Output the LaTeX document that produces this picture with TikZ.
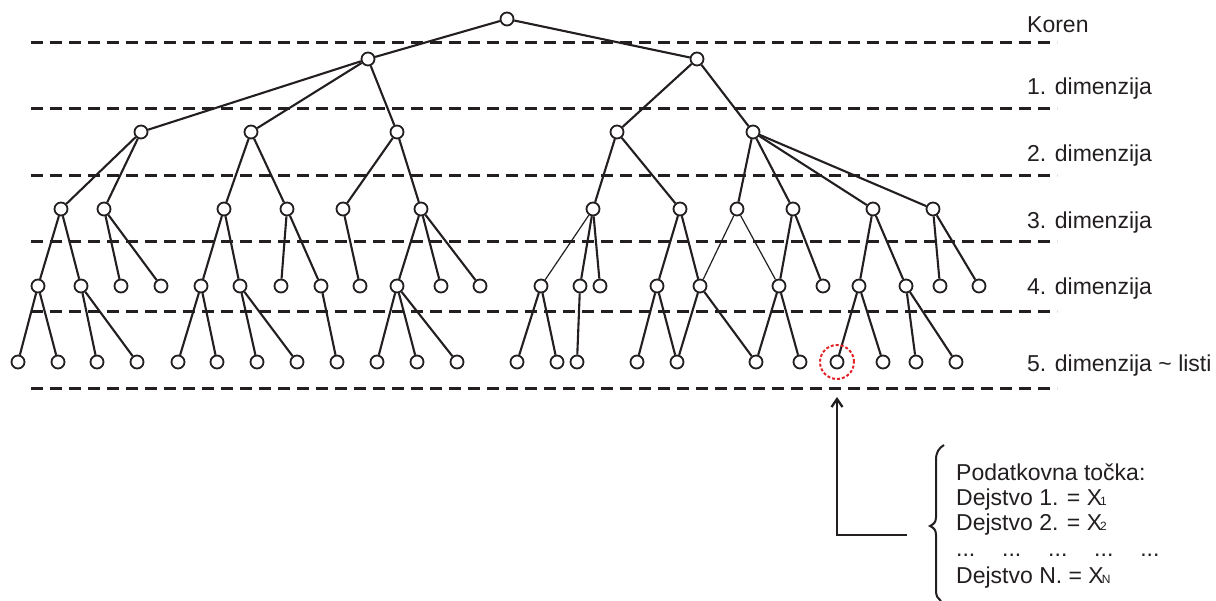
\documentclass[tikz,border=0pt]{standalone}
\usepackage{fontspec}
\setmainfont{Liberation Sans}
\usetikzlibrary{arrows.meta}
\definecolor{ink}{RGB}{35,31,32}
\definecolor{hlred}{RGB}{226,35,40}
\newcommand{\Xsub}[1]{X\kern-2pt{\fontsize{12}{12}\selectfont #1}}
\begin{document}
\begin{tikzpicture}[x=1pt,y=-1pt,
  dot/.style={circle,draw=ink,line width=1.8pt,fill=white,minimum size=13pt,inner sep=0pt},
  edge/.style={draw=ink,line width=2.1pt},
  thinedge/.style={draw=ink,line width=1.2pt},
  levelline/.style={draw=ink,line width=3pt,dash pattern=on 12pt off 7pt},
  lbl/.style={anchor=base west,inner sep=0pt,text=ink,font=\fontsize{23}{25}\selectfont},
  hlc/.style={circle,draw=hlred,line width=2pt,dash pattern=on 3pt off 2pt,minimum size=34pt,inner sep=0pt}]
\useasboundingbox (0,0) rectangle (1216,601);

% level separators
\foreach \y in {43,109,176,242,312,389}
  \draw[levelline] (31,\y) -- (1057,\y);

% nodes
\node[dot] (root) at (507,19) {};
\node[dot] (a1) at (368,59) {};
\node[dot] (a2) at (697,59) {};
\foreach \x [count=\i] in {141,251,397,617,753}
  \node[dot] (b\i) at (\x,132) {};
\foreach \x [count=\i] in {61,104,224,287,343,421,593,680,737,793,873,933}
  \node[dot] (c\i) at (\x,209) {};
\foreach \x [count=\i] in {38,81,121,161,201,240,281,321,360,397,441,480,541,580,600,657,700,779,823,859,906,940,979}
  \node[dot] (d\i) at (\x,286) {};
\foreach \x [count=\i] in {18,58,97,137,178,217,257,297,337,377,417,457,517,557,577,637,677,756,800,837,883,916,956}
  \node[dot] (e\i) at (\x,362) {};

% edges
\foreach \p/\q in {root/a1,root/a2,
  a1/b1,a1/b2,a1/b3,a2/b4,a2/b5,
  b1/c1,b1/c2,b2/c3,b2/c4,b3/c5,b3/c6,b4/c7,b4/c8,b5/c9,b5/c10,b5/c11,b5/c12,
  c1/d1,c1/d2,c2/d3,c2/d4,c3/d5,c3/d6,c4/d7,c4/d8,c5/d9,c6/d10,c6/d11,c6/d12,
  c7/d14,c7/d15,c8/d16,c8/d17,c10/d18,c10/d19,c11/d20,c11/d21,c12/d22,c12/d23,
  d1/e1,d1/e2,d2/e3,d2/e4,d5/e5,d5/e6,d6/e7,d6/e8,d8/e9,d10/e10,d10/e11,d10/e12,
  d13/e13,d13/e14,d14/e15,d16/e16,d16/e17,d17/e17,d17/e18,d18/e18,d18/e19,
  d20/e20,d20/e21,d21/e22,d21/e23}
  \draw[edge] (\p) -- (\q);
\foreach \p/\q in {c7/d13,c9/d17,c9/d18}
  \draw[thinedge] (\p) -- (\q);

% highlighted data point
\node[hlc] (hl) at (e20) {};

% level labels
\node[lbl] (lk) at (1027,33) {Koren};
\node[lbl] (l1) at (1027,95) {1. dimenzija};
\node[lbl] (l2) at (1027,162) {2. dimenzija};
\node[lbl] (l3) at (1027,229) {3. dimenzija};
\node[lbl] (l4) at (1027,295) {4. dimenzija};
\node[lbl] (l5) at (1027,372) {5. dimenzija \textasciitilde{} listi};

% arrow to the data point
\coordinate (armend) at (907,535);
\coordinate (corner) at (837,535);
\coordinate (tipend) at (837,397);
\draw[draw=ink,line width=2.3pt,-{Straight Barb[length=8pt,width=11pt]}] (armend) -- (corner) -- (tipend);

% brace
\draw[draw=ink,line width=2pt] (944,445) .. controls (939,448) and (936,452) .. (936,460)
  -- (936,517) .. controls (936,522) and (934,524) .. (930,526)
  .. controls (934,528) and (936,530) .. (936,535)
  -- (936,591) .. controls (936,596) and (938,599) .. (941,601);

% data point description
\node[lbl] (t1) at (956,480) {Podatkovna točka:};
\node[lbl] (t2) at (956,505) {Dejstvo 1. = \Xsub{1}};
\node[lbl] (t3) at (956,530) {Dejstvo 2. = \Xsub{2}};
\node[lbl] (t4) at (956,556) {\makebox[46pt][l]{...}\makebox[46pt][l]{...}\makebox[46pt][l]{...}\makebox[46pt][l]{...}...};
\node[lbl] (t5) at (956,583) {Dejstvo N. = \Xsub{N}};
\end{tikzpicture}
\end{document}
